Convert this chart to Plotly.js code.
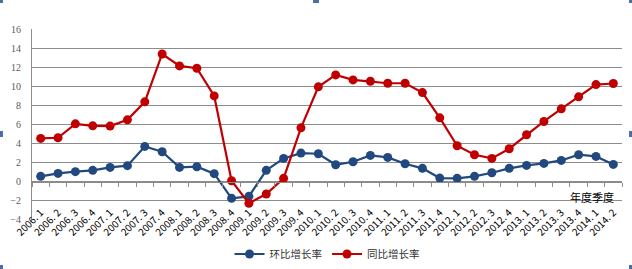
<!DOCTYPE html>
<html>
<head>
<meta charset="utf-8">
<script src="https://cdn.plot.ly/plotly-3.0.1.min.js"></script>
<style>
  html, body { margin: 0; padding: 0; background: #ffffff; }
  #chart { width: 632px; height: 269px; }
</style>
</head>
<body>
<div id="chart"></div>
<script>
// Quarter labels
const quarters = [
  "2006. 1", "2006. 2", "2006. 3", "2006. 4",
  "2007. 1", "2007. 2", "2007. 3", "2007. 4",
  "2008. 1", "2008. 2", "2008. 3", "2008. 4",
  "2009. 1", "2009. 2", "2009. 3", "2009. 4",
  "2010. 1", "2010. 2", "2010. 3", "2010. 4",
  "2011. 1", "2011. 2", "2011. 3", "2011. 4",
  "2012. 1", "2012. 2", "2012. 3", "2012. 4",
  "2013. 1", "2013. 2", "2013. 3", "2013. 4",
  "2014. 1", "2014. 2"
];

// 环比增长率 (quarter-on-quarter growth, %)
const qoqGrowth = [
  0.56, 0.87, 1.05, 1.19,
  1.50, 1.68, 3.70, 3.14,
  1.50, 1.57, 0.84, -1.75,
  -1.54, 1.19, 2.44, 3.00,
  2.93, 1.78, 2.09, 2.76,
  2.55, 1.88, 1.40, 0.38,
  0.35, 0.56, 0.94, 1.40,
  1.71, 1.92, 2.23, 2.83,
  2.65, 1.81
];

// 同比增长率 (year-on-year growth, %)
const yoyGrowth = [
  4.54, 4.61, 6.07, 5.86,
  5.83, 6.49, 8.38, 13.40,
  12.15, 11.90, 9.00, 0.10,
  -2.27, -1.29, 0.35, 5.65,
  9.95, 11.20, 10.68, 10.54,
  10.33, 10.33, 9.35, 6.70,
  3.77, 2.83, 2.44, 3.46,
  4.92, 6.32, 7.64, 8.90,
  10.19, 10.30
];

const seriesNames = ["环比增长率", "同比增长率"];
const axisLabel = "年度季度";

const W = 632, H = 269;
const M = { l: 32, r: 10, t: 29, b: 49, autoexpand: false };
const blue = "#22497f";
const red = "#c00000";
const grid = "#8c8c8c";

const traces = [
  {
    x: quarters, y: qoqGrowth, name: seriesNames[0],
    type: "scatter", mode: "lines+markers",
    line: { color: blue, width: 2.2 },
    marker: { color: blue, size: 9 }
  },
  {
    x: quarters, y: yoyGrowth, name: seriesNames[1],
    type: "scatter", mode: "lines+markers",
    line: { color: red, width: 2.2 },
    marker: { color: red, size: 9 }
  }
];

// selection handles around the chart frame (pixel -> paper)
function px2paperX(px) { return (px - M.l) / (W - M.l - M.r); }
function px2paperY(py) { return (H - M.b - py) / (H - M.t - M.b); }
const handleCentres = [[0,0],[316,0],[632,0],[0,134],[632,134],[0,268],[316,268],[632,268]];
const handles = handleCentres.map(([cx, cy]) => ({
  type: "rect", xref: "paper", yref: "paper",
  x0: px2paperX(cx - 3), x1: px2paperX(cx + 3),
  y0: px2paperY(cy + 3), y1: px2paperY(cy - 3),
  fillcolor: "#4a6fa5", line: { width: 0 }, layer: "above"
}));

const layout = {
  width: W, height: H,
  margin: M,
  paper_bgcolor: "#ffffff",
  plot_bgcolor: "#ffffff",
  showlegend: true,
  legend: {
    orientation: "h", x: 0.5, xanchor: "center",
    y: px2paperY(254), yanchor: "middle",
    font: { family: "Noto Sans CJK SC", size: 10.5, color: "#333333" },
    itemwidth: 30
  },
  xaxis: {
    type: "category",
    automargin: false,
    range: [-0.5, quarters.length - 0.5],
    anchor: "free", position: 0.2,
    showline: true, linecolor: grid, linewidth: 1,
    showgrid: false, zeroline: false,
    ticks: "outside", tickson: "boundaries", ticklen: 4, tickcolor: grid,
    tickangle: -45,
    ticklabelstandoff: 20,
    tickfont: { family: "Noto Sans CJK JP", size: 10, color: "#000000" }
  },
  yaxis: {
    automargin: false,
    range: [-4.02, 16.02], dtick: 2,
    showline: true, linecolor: grid, linewidth: 1,
    showgrid: true, gridcolor: grid, gridwidth: 1,
    zeroline: false,
    ticks: "", ticklabelstandoff: 8,
    tickfont: { family: "Liberation Serif", size: 10, color: "#595959" }
  },
  annotations: [
    {
      text: axisLabel, xref: "paper", yref: "y",
      x: px2paperX(616), y: -1.6, xanchor: "right", yanchor: "middle",
      showarrow: false,
      font: { family: "Noto Sans CJK SC", size: 11, color: "#000000" }
    }
  ],
  shapes: handles
};

Plotly.newPlot("chart", traces, layout, { displayModeBar: false, staticPlot: true });
</script>
</body>
</html>
